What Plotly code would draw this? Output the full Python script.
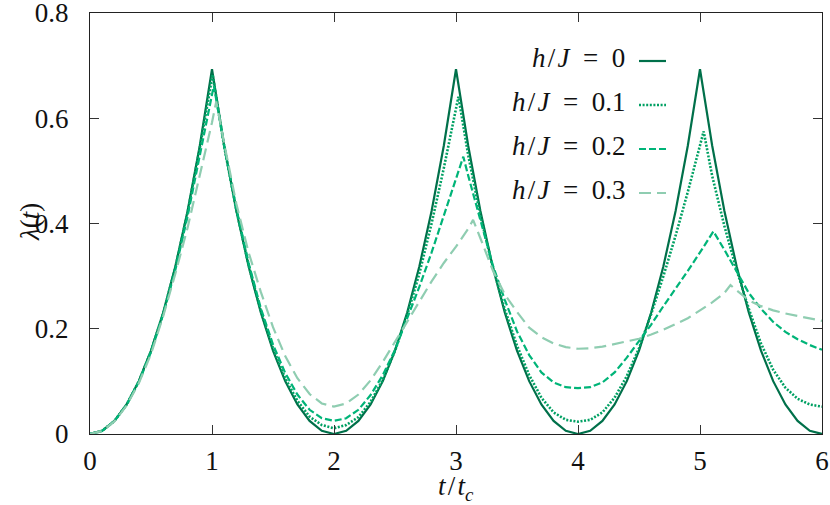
import plotly.graph_objects as go

# common time grid t/t_c
T = [0.0, 0.1, 0.2, 0.3, 0.4, 0.5, 0.6, 0.7, 0.8, 0.9,
     1.0, 1.1, 1.2, 1.3, 1.4, 1.5, 1.6, 1.7, 1.8, 1.9,
     2.0, 2.1, 2.2, 2.3, 2.4, 2.5, 2.6, 2.7, 2.8, 2.9,
     3.0, 3.1, 3.2, 3.3, 3.4, 3.5, 3.6, 3.7, 3.8, 3.9,
     4.0, 4.1, 4.2, 4.3, 4.4, 4.5, 4.6, 4.7, 4.8, 4.9,
     5.0, 5.1, 5.2, 5.3, 5.4, 5.5, 5.6, 5.7, 5.8, 5.9, 6.0]

LAM_00 = [0, .0062, .0248, .0560, .1004, .1584, .2308, .3188, .4239, .5478,
          .6931, .5478, .4239, .3188, .2308, .1584, .1004, .0560, .0248, .0062,
          0, .0062, .0248, .0560, .1004, .1584, .2308, .3188, .4239, .5478,
          .6931, .5478, .4239, .3188, .2308, .1584, .1004, .0560, .0248, .0062,
          0, .0062, .0248, .0560, .1004, .1584, .2308, .3188, .4239, .5478,
          .6931, .5478, .4239, .3188, .2308, .1584, .1004, .0560, .0248, .0062, 0]

LAM_01 = [0, .0062, .0247, .0558, .0999, .1576, .2295, .3168, .4210, .5435,
          .676, .546, .425, .321, .234, .163, .106, .063, .033, .017,
          .011, .017, .032, .061, .103, .158, .226, .305, .400, .505,
          .613, .530, .415, .318, .237, .168, .112, .069, .041, .027,
          .0234, .027, .041, .069, .110, .163, .228, .300, .377, .460,
          .547, .490, .395, .312, .238, .172, .122, .088, .067, .056, .052]
PEAK_T_01 = [1.005, 3.02, 5.03]
PEAK_V_01 = [.683, .641, .575]

LAM_02 = [0, .0061, .0245, .0553, .0990, .1560, .2270, .3120, .4140, .5320,
          .645, .548, .428, .325, .239, .170, .116, .075, .046, .030,
          .025, .030, .046, .074, .112, .160, .220, .280, .345, .415,
          .484, .491, .405, .322, .255, .195, .150, .117, .098, .089,
          .087, .089, .098, .117, .145, .176, .208, .243, .276, .310,
          .345, .381, .350, .308, .268, .238, .213, .194, .180, .169, .160]
PEAK_T_02 = [1.015, 3.06, 5.11]
PEAK_V_02 = [.662, .527, .385]

LAM_03 = [0, .0060, .0240, .0540, .0965, .1520, .2240, .3050, .3920, .4900,
          .592, .552, .437, .345, .270, .203, .148, .106, .076, .058,
          .052, .058, .075, .102, .137, .175, .213, .252, .290, .325,
          .356, .390, .372, .312, .265, .232, .202, .184, .172, .165,
          .162, .163, .166, .171, .176, .181, .189, .198, .209, .220,
          .235, .250, .268, .273, .254, .243, .235, .229, .224, .219, .215]
PEAK_T_03 = [1.035, 3.14, 5.25]
PEAK_V_03 = [.632, .407, .283]

H_VALUES = ["0", "0.1", "0.2", "0.3"]
X_TICKS = [0, 1, 2, 3, 4, 5, 6]
Y_TICKS = [0, 0.2, 0.4, 0.6, 0.8]
Y_TICK_TEXT = ["0", "0.2", "0.4", "0.6", "0.8"]

LABELS = ["<i>h</i>\u200a/\u200a<i>J</i>\u2002=\u2002" + v for v in H_VALUES]


def merged(t, v, pt, pv):
    pts = sorted(list(zip(t, v)) + list(zip(pt, pv)))
    return [p[0] for p in pts], [p[1] for p in pts]


series = [
    (T, LAM_00, "#00704a", "solid", 2.2),
    (*merged(T, LAM_01, PEAK_T_01, PEAK_V_01), "#00a063", "2px,1.6px", 2.6),
    (*merged(T, LAM_02, PEAK_T_02, PEAK_V_02), "#00b478", "7px,3px", 2.2),
    (*merged(T, LAM_03, PEAK_T_03, PEAK_V_03), "#8fcdb1", "12px,6px", 2.2),
]

FONT = "Liberation Serif"
FS = 27
fig = go.Figure()
for (tx, ty, col, dash, w), lab in zip(series, LABELS):
    fig.add_trace(go.Scatter(x=tx, y=ty, mode="lines", name=lab,
                             line=dict(color=col, dash=dash, width=w),
                             showlegend=False))

# plot area in pixels: x 90..822, y 13..434
L, R, TOP, BOT, W, H = 90, 8, 13, 71, 830, 505
pw, ph = W - L - R, H - TOP - BOT

def px(xp):
    return (xp - L) / pw

def py(yp):
    return (H - BOT - yp) / ph

annotations = []
shapes = []
leg_y = [58, 102, 146, 190]
for (tx, ty, col, dash, w), lab, yy in zip(series, LABELS, leg_y):
    annotations.append(dict(x=px(627), y=py(yy), xref="paper", yref="paper",
                            text=lab, showarrow=False, xanchor="right", yanchor="middle",
                            font=dict(family=FONT, size=FS, color="#111")))
    shapes.append(dict(type="line", xref="paper", yref="paper",
                       x0=px(639), x1=px(666), y0=py(yy + 3), y1=py(yy + 3),
                       line=dict(color=col, dash=dash, width=w)))

annotations.append(dict(x=0.5, y=py(488), xref="paper", yref="paper",
                        text="<i>t</i>\u200a/\u200a<i>t<sub>c</sub></i>", showarrow=False,
                        xanchor="center", yanchor="middle",
                        font=dict(family=FONT, size=FS, color="#111")))
annotations.append(dict(x=px(30), y=py(222), xref="paper", yref="paper",
                        text="<i>λ</i>(<i>t</i>)", showarrow=False, textangle=-90,
                        xanchor="center", yanchor="middle",
                        font=dict(family=FONT, size=FS, color="#111")))

fig.update_layout(
    width=W, height=H, margin=dict(l=L, r=R, t=TOP, b=BOT),
    paper_bgcolor="white", plot_bgcolor="white",
    font=dict(family=FONT, size=FS, color="#111"),
    annotations=annotations, shapes=shapes,
)
for ax, rng, tv, tt, so in [(fig.update_xaxes, [0, 6], X_TICKS, [str(v) for v in X_TICKS], 3),
                            (fig.update_yaxes, [0, 0.8], Y_TICKS, Y_TICK_TEXT, 15)]:
    ax(range=rng, tickvals=tv, ticktext=tt, showgrid=False, zeroline=False,
       showline=True, linecolor="#222", linewidth=1, mirror="ticks",
       ticks="inside", ticklen=9, tickcolor="#333", tickwidth=1,
       ticklabeloverflow="allow", ticklabelstandoff=so, automargin=False,
       tickfont=dict(family=FONT, size=FS, color="#111"))

fig.write_html("out.html", config={"displayModeBar": False},
               post_script="document.body.style.margin='0px';document.body.style.overflow='hidden';")
